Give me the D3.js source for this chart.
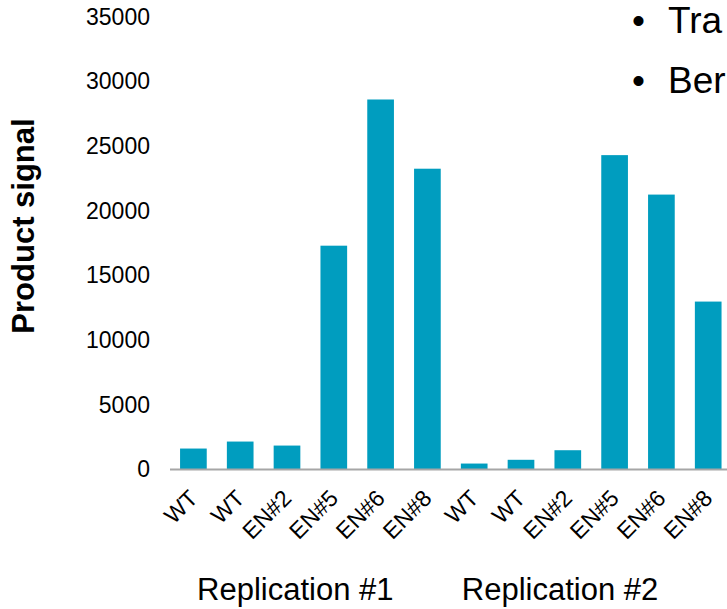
<!DOCTYPE html>
<html>
<head>
<meta charset="utf-8">
<script src="https://cdn.jsdelivr.net/npm/d3@7"></script>
<style>
  html, body { margin: 0; padding: 0; background: #fff; overflow: hidden; }
  svg { display: block; font-family: "Liberation Sans", Arial, sans-serif; }
</style>
</head>
<body>
<svg id="chart" width="727" height="609"></svg>
<script>
const categories = ["WT", "WT", "EN#2", "EN#5", "EN#6", "EN#8", "WT", "WT", "EN#2", "EN#5", "EN#6", "EN#8"];
const values = [1620, 2160, 1850, 17300, 28600, 23250, 460, 750, 1490, 24300, 21250, 12980];
const groupLabels = ["Replication #1", "Replication #2"];
const yTicks = [0, 5000, 10000, 15000, 20000, 25000, 30000, 35000];
const bullets = ["Tra", "Ber"];

const svg = d3.select("#chart");
const x = d3.scaleBand()
  .domain(d3.range(categories.length))
  .range([170, 731.6])
  .paddingInner(0.43)
  .paddingOuter(0.215);
const y = d3.scaleLinear().domain([0, 35000]).range([469.5, 16.7]);

// y tick labels
const yAxis = d3.axisLeft(y).tickValues(yTicks).tickSize(0).tickPadding(0).tickFormat(d3.format("d"));
const gy = svg.append("g").attr("transform", "translate(150,0)").call(yAxis);
gy.select(".domain").remove();
gy.selectAll("text").attr("font-size", 23).attr("fill", "#000")
  .attr("font-family", "Liberation Sans, Arial, sans-serif");

// bars
svg.append("g").selectAll("rect").data(values).join("rect")
  .attr("x", (d, i) => x(i))
  .attr("y", d => y(d))
  .attr("width", x.bandwidth())
  .attr("height", d => y(0) - y(d))
  .attr("fill", "#009DBF");

// x axis line
const xAxis = d3.axisBottom(x).tickSize(0).tickFormat("");
const gx = svg.append("g").attr("transform", `translate(0,${y(0)})`).call(xAxis);
gx.select(".domain").attr("stroke", "#a6a6a6").attr("stroke-width", 2)
  .attr("d", "M170,0H740");

// rotated category labels
svg.append("g").selectAll("text").data(categories).join("text")
  .attr("transform", (d, i) => `translate(${x(i) + x.bandwidth() / 2},${494}) rotate(-45)`)
  .attr("text-anchor", "end")
  .attr("dy", "0.35em")
  .attr("font-size", 23)
  .attr("fill", "#000")
  .text(d => d);

// group labels
const groupOffsets = [17, 1];
svg.append("g").selectAll("text").data(groupLabels).join("text")
  .attr("x", (d, i) => x(i * 6) + groupOffsets[i])
  .attr("y", 600)
  .attr("text-anchor", "start")
  .attr("font-size", 31)
  .attr("fill", "#000")
  .text(d => d);

// y axis title
svg.append("text")
  .attr("transform", "translate(34,226) rotate(-90)")
  .attr("text-anchor", "middle")
  .attr("font-size", 31)
  .attr("font-weight", "bold")
  .attr("fill", "#000")
  .text("Product signal");

// bullet text (slide overlay, clipped at right edge)
const bl = svg.append("g").selectAll("g").data(bullets).join("g")
  .attr("transform", (d, i) => `translate(0,${33 + i * 60})`);
bl.append("text").attr("x", 632).attr("font-size", 37).attr("fill", "#000").text("•");
bl.append("text").attr("x", 668).attr("font-size", 37).attr("fill", "#000").text(d => d);
</script>
</body>
</html>
